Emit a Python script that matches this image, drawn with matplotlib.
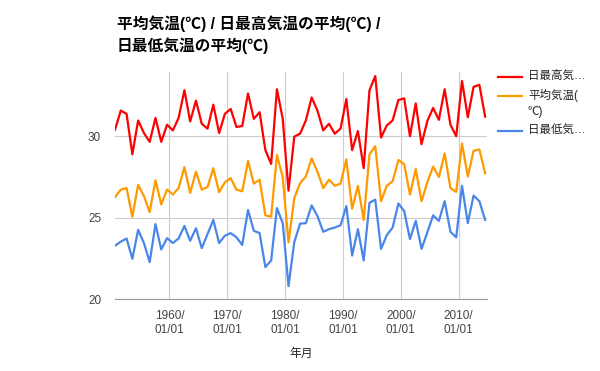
"""
Summer temperature chart: mean / daily max mean / daily min mean, 1950-2014.
"""

import matplotlib
matplotlib.use('Agg')
import matplotlib.pyplot as plt
from matplotlib.lines import Line2D

plt.rcParams['font.family'] = ['Liberation Sans', 'Noto Sans CJK JP', 'DejaVu Sans']

# Data (one value per year)
years = list(range(1950, 2015))

t_max = [30.40, 31.58, 31.38, 28.89, 30.97, 30.20, 29.66, 31.13, 29.66, 30.71,
         30.36, 31.13, 32.83, 30.91, 32.19, 30.77, 30.47, 31.94, 30.20, 31.38,
         31.68, 30.57, 30.63, 32.63, 31.07, 31.48, 29.15, 28.30, 32.89, 31.07,
         26.66, 29.98, 30.16, 30.97, 32.39, 31.58, 30.36, 30.77, 30.16, 30.47,
         32.29, 29.15, 30.32, 28.04, 32.83, 33.70, 29.92, 30.67, 30.97, 32.23,
         32.33, 30.00, 32.02, 29.51, 30.93, 31.74, 31.01, 32.89, 30.71, 30.00,
         33.40, 31.17, 33.04, 33.16, 31.21]

t_mean = [26.26, 26.72, 26.82, 25.06, 27.02, 26.32, 25.34, 27.29, 25.81, 26.72,
          26.42, 26.82, 28.10, 26.52, 27.83, 26.72, 26.88, 28.04, 26.56, 27.17,
          27.43, 26.72, 26.62, 28.48, 27.09, 27.33, 25.14, 25.06, 28.85, 27.49,
          23.48, 26.21, 27.11, 27.53, 28.64, 27.83, 26.82, 27.33, 26.96, 27.09,
          28.58, 25.55, 26.96, 24.86, 28.89, 29.39, 26.01, 26.96, 27.23, 28.54,
          28.28, 26.42, 27.98, 26.01, 27.17, 28.14, 27.49, 28.95, 26.82, 26.58,
          29.55, 27.53, 29.11, 29.19, 27.73]

t_min = [23.28, 23.52, 23.72, 22.47, 24.25, 23.44, 22.27, 24.60, 23.04, 23.74,
         23.44, 23.72, 24.49, 23.58, 24.35, 23.12, 23.99, 24.86, 23.44, 23.89,
         24.05, 23.79, 23.32, 25.47, 24.19, 24.05, 21.96, 22.37, 25.59, 24.66,
         20.79, 23.50, 24.63, 24.66, 25.75, 25.10, 24.13, 24.29, 24.39, 24.53,
         25.71, 22.67, 24.29, 22.37, 25.91, 26.11, 23.08, 23.93, 24.39, 25.87,
         25.40, 23.68, 24.80, 23.08, 24.09, 25.14, 24.80, 26.01, 24.13, 23.79,
         26.96, 24.66, 26.36, 26.01, 24.86]

colors = ['#ff0000', '#ff9900', '#4a86e8']
legend_labels = ['日最高気…', '平均気温(\n℃)', '日最低気…']
decades = [1960, 1970, 1980, 1990, 2000, 2010]
decade_labels = ['%d/\n01/01' % d for d in decades]

# points sit around August of each year
x = [y + 0.58 for y in years]

W, H = 600, 371
fig = plt.figure(figsize=(6, 3.71), dpi=100)
ax = fig.add_axes([115/W, 1 - 299/H, 372/W, (299 - 72)/H])

for series, c in zip([t_max, t_mean, t_min], colors):
    ax.plot(x, series, color=c, lw=1.6)

ax.set_xlim(x[0], 2014.9)
ax.set_ylim(20, 33.95)
ax.set_yticks([20, 25, 30])
ax.set_xticks(decades)
ax.set_xticklabels(decade_labels)
ax.tick_params(length=0, labelsize=8.5, colors='#444444', pad=8)
ax.tick_params(axis='y', pad=10)
ax.grid(True, color='#cccccc', lw=0.8)
ax.set_axisbelow(True)
for side in ['top', 'right', 'left']:
    ax.spines[side].set_visible(False)
ax.spines['bottom'].set_color('#999999')
ax.spines['bottom'].set_linewidth(0.8)

ax.set_xlabel('年月', fontsize=8.5, color='#222222', style='italic', labelpad=9)

fig.text(117/W, 1 - 15/H, '平均気温(℃) / 日最高気温の平均(℃) /\n日最低気温の平均(℃)',
         fontsize=11.3, fontweight='bold', va='top', ha='left', linespacing=1.45)

# legend on the right, entries placed like the reference
legend_y = [77, 96, 131]
for c, lab, yy in zip(colors, legend_labels, legend_y):
    fig.add_artist(Line2D([498/W, 522/W], [1 - yy/H, 1 - yy/H], color=c, lw=1.6))
    fig.text(528/W, 1 - (yy - 7)/H, lab, fontsize=8.3, color='#222222',
             va='top', ha='left', linespacing=1.4)

fig.savefig('out.png', dpi=100)
